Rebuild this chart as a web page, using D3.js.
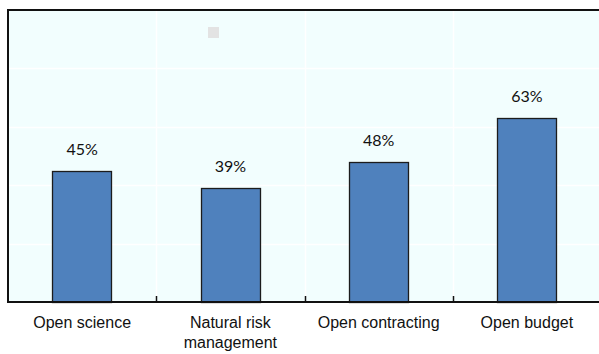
<!DOCTYPE html>
<html>
<head>
<meta charset="utf-8">
<script src="https://cdn.jsdelivr.net/npm/d3@7"></script>
<style>
  body { margin: 0; background: #fff; }
</style>
</head>
<body>
<div id="chart"></div>
<script>
// Chart data
const categories = ["Open science", "Natural risk management", "Open contracting", "Open budget"]
const values = [45, 39, 48, 63]
const gridTicks = [20, 40, 60, 80]

const WIDTH = 599
const HEIGHT = 354
const PLOT = {LEFT: 8, RIGHT: 601, TOP: 10, BOTTOM: 302}

let svg = d3.select("#chart").append("svg")
    .attr("width", WIDTH)
    .attr("height", HEIGHT)

// Scales
let x = d3.scaleBand()
    .domain(categories)
    .range([PLOT.LEFT, PLOT.RIGHT])
    .paddingInner(0.6)
    .paddingOuter(0.3)

let xOuter = d3.scaleBand()
    .domain(categories)
    .range([PLOT.LEFT, PLOT.RIGHT])

let y = d3.scaleLinear()
    .domain([0, 100])
    .range([PLOT.BOTTOM, PLOT.TOP])

// Plot background
svg.append("rect")
    .attr("x", PLOT.LEFT)
    .attr("y", PLOT.TOP)
    .attr("width", PLOT.RIGHT - PLOT.LEFT)
    .attr("height", PLOT.BOTTOM - PLOT.TOP)
    .attr("fill", "#f2fefe")

// Horizontal gridlines
svg.selectAll(".hgrid")
    .data(gridTicks)
    .enter()
    .append("line")
    .attr("x1", PLOT.LEFT)
    .attr("x2", PLOT.RIGHT)
    .attr("y1", d => Math.round(y(d)) + 0.5)
    .attr("y2", d => Math.round(y(d)) + 0.5)
    .attr("stroke", "#ffffff")
    .attr("stroke-width", 1.5)

// Vertical gridlines at category boundaries
const bounds = categories.slice(1).map(c => xOuter(c))
svg.selectAll(".vgrid")
    .data(bounds)
    .enter()
    .append("line")
    .attr("x1", d => Math.round(d) + 0.5)
    .attr("x2", d => Math.round(d) + 0.5)
    .attr("y1", PLOT.TOP)
    .attr("y2", PLOT.BOTTOM)
    .attr("stroke", "#ffffff")
    .attr("stroke-width", 1.5)

// Legend marker (no text)
svg.append("rect")
    .attr("x", 208)
    .attr("y", 27)
    .attr("width", 11)
    .attr("height", 11)
    .attr("fill", "#e3e3e3")

// Bars
svg.selectAll(".bar")
    .data(values)
    .enter()
    .append("rect")
    .attr("x", (d, i) => Math.round(x(categories[i])) + 0.5)
    .attr("y", d => Math.round(y(d)) + 0.5)
    .attr("width", Math.round(x.bandwidth()))
    .attr("height", d => PLOT.BOTTOM - Math.round(y(d)))
    .attr("fill", "#4f81bd")
    .attr("stroke", "#1c1c1c")
    .attr("stroke-width", 1.3)

// Value labels
svg.selectAll(".val")
    .data(values)
    .enter()
    .append("text")
    .attr("x", (d, i) => x(categories[i]) + x.bandwidth() / 2)
    .attr("y", d => y(d) - 16)
    .attr("text-anchor", "middle")
    .style("font-family", "Lato, 'Open Sans', sans-serif")
    .style("font-size", "16px")
    .style("fill", "#111")
    .text(d => d + "%")

// Frame: top border and left axis
svg.append("line")
    .attr("x1", PLOT.LEFT).attr("x2", PLOT.RIGHT)
    .attr("y1", PLOT.TOP).attr("y2", PLOT.TOP)
    .attr("stroke", "#111").attr("stroke-width", 2)
svg.append("line")
    .attr("x1", PLOT.LEFT).attr("x2", PLOT.LEFT)
    .attr("y1", PLOT.TOP - 1).attr("y2", PLOT.BOTTOM + 1)
    .attr("stroke", "#111").attr("stroke-width", 2)

// Bottom axis with inward ticks at category boundaries
svg.append("line")
    .attr("x1", PLOT.LEFT - 1).attr("x2", PLOT.RIGHT)
    .attr("y1", PLOT.BOTTOM).attr("y2", PLOT.BOTTOM)
    .attr("stroke", "#111").attr("stroke-width", 2)
svg.selectAll(".tick")
    .data(bounds)
    .enter()
    .append("line")
    .attr("x1", d => Math.round(d) + 0.5)
    .attr("x2", d => Math.round(d) + 0.5)
    .attr("y1", PLOT.BOTTOM)
    .attr("y2", PLOT.BOTTOM - 6)
    .attr("stroke", "#111")
    .attr("stroke-width", 1.5)

// Category labels (wrapped)
const labelLines = {"Natural risk management": ["Natural risk", "management"]}
let cat = svg.selectAll(".cat")
    .data(categories)
    .enter()
    .append("text")
    .attr("x", d => xOuter(d) + xOuter.bandwidth() / 2)
    .attr("y", 328)
    .attr("text-anchor", "middle")
    .style("font-family", "'Liberation Sans', Arial, sans-serif")
    .style("font-size", "16px")
    .style("fill", "#111")
cat.each(function(d) {
    const lines = labelLines[d] || [d]
    d3.select(this).selectAll("tspan")
        .data(lines)
        .enter()
        .append("tspan")
        .attr("x", xOuter(d) + xOuter.bandwidth() / 2)
        .attr("dy", (l, i) => i ? 20 : 0)
        .text(l => l)
})
</script>
</body>
</html>
